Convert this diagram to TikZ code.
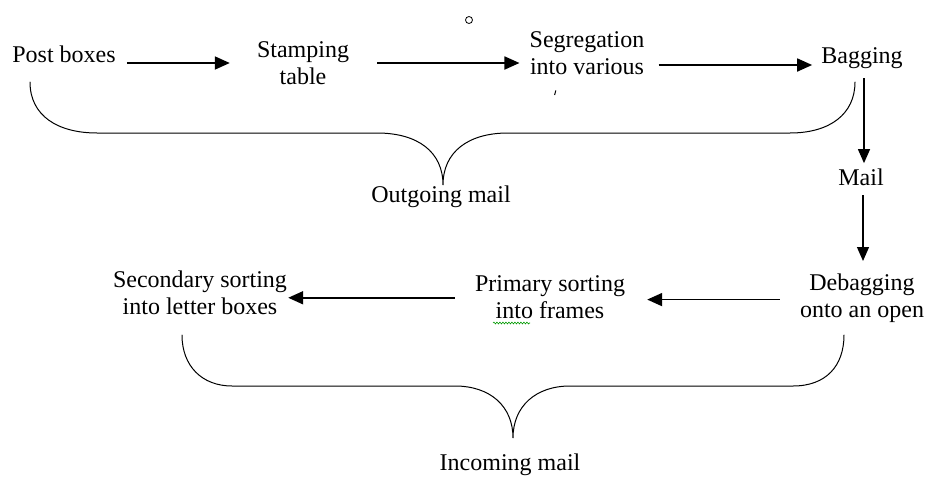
\documentclass[tikz,border=0pt]{standalone}
\usepackage{fontspec}
\setmainfont{Liberation Serif}
\usetikzlibrary{arrows.meta,decorations.pathmorphing}
\begin{document}
\begin{tikzpicture}[x=1pt,y=-1pt,
  txt/.style={inner sep=0pt,align=center,font=\fontsize{24}{27}\selectfont},
  arr/.style={line width=1.8pt,-{Triangle[length=15pt,width=13pt]}},
  varr/.style={line width=1.2pt,-{Triangle[length=14pt,width=12pt]}},
  bracel/.style={line width=1pt,line cap=round}]
\useasboundingbox (0,0) rectangle (927,477);
% nodes
\node[txt,anchor=base] (post) at (64,62) {Post boxes};
\node[txt,anchor=north] (stamp) at (303,41) {Stamping\\table};
\node[txt,anchor=north] (seg) at (587,31) {Segregation\\into various};
\node[txt,anchor=base] (bag) at (862,63) {Bagging};
\node[txt,anchor=base] (mail) at (861,185) {Mail};
\node[txt,anchor=north] (debag) at (862,274) {Debagging\\onto an open};
\node[txt,anchor=north] (prim) at (550,275) {Primary sorting\\into frames};
\node[txt,anchor=north] (sec) at (200,271) {Secondary sorting\\into letter boxes};
\node[txt,anchor=base] (outl) at (441,202) {Outgoing mail};
\node[txt,anchor=base] (inl) at (510,470) {Incoming mail};
% connectors
\draw[arr,shorten <=11pt,shorten >=27pt] ([yshift=-1pt]post.base east) -- ([yshift=-1pt]post.base east -| stamp.west);
\draw[arr,shorten <=28pt,shorten >=10pt] ([yshift=-1pt]stamp.east |- post.base) -- ([yshift=-1pt]seg.west |- post.base);
\draw[arr,shorten <=14pt,shorten >=9pt] ([yshift=-2pt]seg.east |- bag.base) -- ([yshift=-2pt]bag.base west);
\draw[varr,shorten <=10pt,shorten >=5pt] ([xshift=2pt]bag.south) -- ([xshift=3pt]mail.north);
\draw[varr,shorten <=10pt,shorten >=13pt] ([xshift=2pt]mail.south) -- ([xshift=1pt]debag.north);
\draw[arr,shorten <=20pt,shorten >=22pt] ([yshift=-1pt]debag.west) -- ([yshift=-1pt]debag.west -| prim.east);
\draw[arr,shorten <=20pt,shorten >=1pt] ([yshift=-1pt]prim.west) -- ([yshift=-1pt]prim.west -| sec.east);
% braces
\draw[bracel] (30,82) .. controls (30,116) and (58,133) .. (97,133) -- (377,133)
  .. controls (418,133) and (443,152) .. (443,185)
  .. controls (443,152) and (468,133) .. (508,133) -- (790,133)
  .. controls (830,133) and (855,114) .. (855,82);
\draw[bracel] (182,335) .. controls (182,366) and (202,386) .. (232,386) -- (455,386)
  .. controls (490,386) and (513,406) .. (513,438)
  .. controls (513,406) and (536,386) .. (570,386) -- (793,386)
  .. controls (826,386) and (844,366) .. (844,335);
% small marks
\draw[line width=0.8pt] (469,20) circle (3.5);
\draw[line width=1pt] (555.8,90.5) -- (554.6,95);
\draw[green!60!black,line width=0.6pt,decorate,decoration={snake,segment length=3pt,amplitude=0.9pt}] (493,323) -- (530,323);
\end{tikzpicture}
\end{document}
